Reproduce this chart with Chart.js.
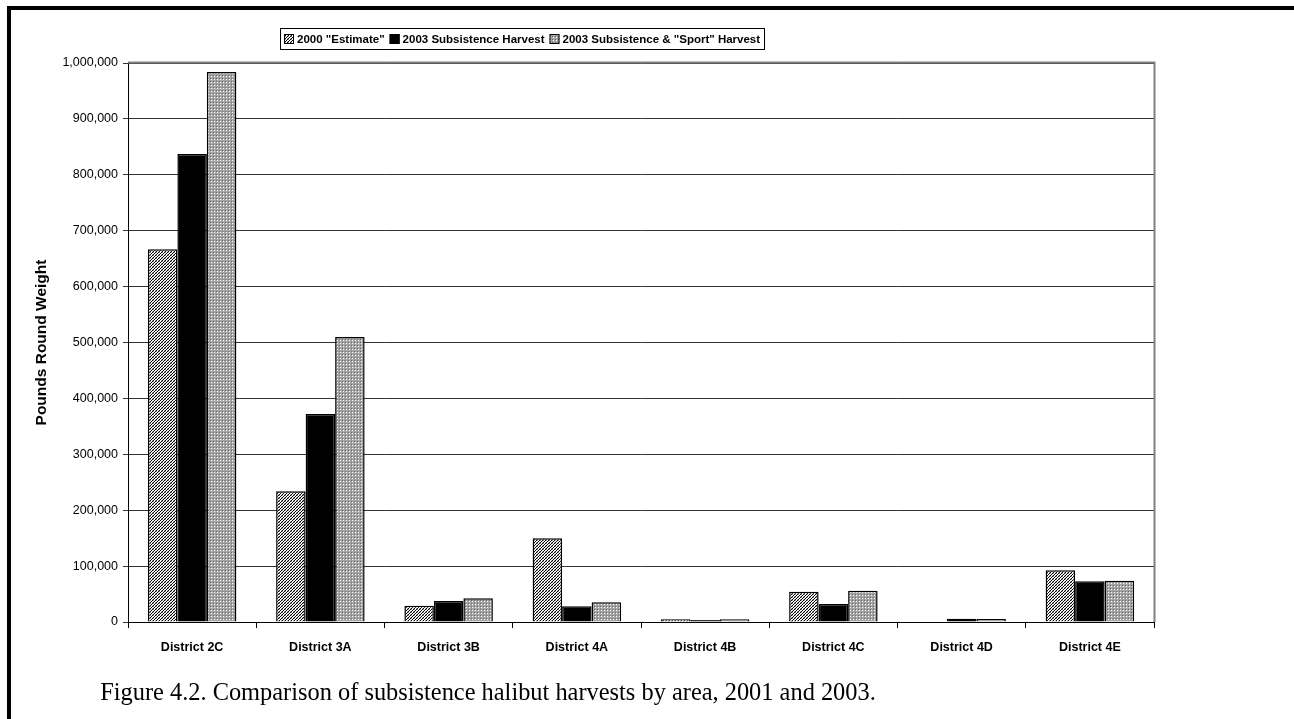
<!DOCTYPE html>
<html lang="en">
<head>
<meta charset="UTF-8">
<title>Subsistence halibut harvests</title>
<script src="https://cdn.jsdelivr.net/npm/chart.js"></script>
<style>
  body { margin: 0; width: 1294px; height: 719px; overflow: hidden; background: #fff; }
  #frame { position: absolute; left: 7px; top: 6px; width: 1400px; height: 800px; border: 4px solid #000; box-sizing: border-box; }
  #chart { position: absolute; left: 0; top: 0; }
  #caption { position: absolute; left: 0; width: 976px; top: 678px; text-align: center;
             font: 24.4px "Liberation Serif", "Times New Roman", serif; color: #000; white-space: nowrap; }
</style>
</head>
<body>
<div id="frame"></div>
<canvas id="chart" width="1294" height="719"></canvas>
<div id="caption">Figure 4.2. Comparison of subsistence halibut harvests by area, 2001 and 2003.</div>

<script>
// values (pounds round weight)
const districts = ["District 2C", "District 3A", "District 3B", "District 4A", "District 4B", "District 4C", "District 4D", "District 4E"];
const estimate2000 = [667000, 234000, 29000, 150000, 4800, 54200, null, 92500];
const subsistence2003 = [837000, 372000, 37600, 28000, 3600, 32200, 5900, 72800];
const subsistenceSport2003 = [984000, 510000, 42400, 35200, 4800, 56000, 5400, 73900];
const seriesNames = ['2000 "Estimate"', '2003 Subsistence Harvest', '2003 Subsistence & "Sport" Harvest'];

function makePattern(size, bg, cells) {
    const c = document.createElement("canvas");
    c.width = size; c.height = size;
    const g = c.getContext("2d");
    g.fillStyle = bg;
    g.fillRect(0, 0, size, size);
    cells.forEach(p => { g.fillStyle = p[2]; g.fillRect(p[0], p[1], 1, 1); });
    return g.createPattern(c, "repeat");
}

const ctx = document.getElementById("chart").getContext("2d");
// fine diagonal hatch for 2000, dotted grey for 2003 sub+sport
const hatch = makePattern(3, "#fff", [[2,0,"#000"],[1,1,"#000"],[0,2,"#000"],[0,0,"#999"],[2,2,"#bbb"]]);
const dots = makePattern(3, "#a4a4a4", [[1,1,"#fff"],[0,0,"#6a6a6a"]]);

const frameLines = {
    id: "frameLines",
    afterDraw(chart) {
        const a = chart.chartArea, c = chart.ctx;
        c.save();
        c.strokeStyle = "#808080";
        c.lineWidth = 2;
        c.beginPath();
        c.moveTo(a.left, a.top - 0.5);
        c.lineTo(a.right + 0.5, a.top - 0.5);
        c.lineTo(a.right + 0.5, a.bottom);
        c.stroke();
        c.restore();
    }
};

// boxed legend above the plot, like the original
const boxLegend = {
    id: "boxLegend",
    afterDraw(chart) {
        const c = chart.ctx;
        c.save();
        c.font = "bold 11.5px 'Liberation Sans', Arial, sans-serif";
        c.textBaseline = "middle";
        const sq = 10, gapIn = 3, gapOut = 5, pad = 4;
        const sets = chart.data.datasets;
        let total = 0;
        sets.forEach((d, i) => {
            total += sq + gapIn + c.measureText(d.label).width;
            if (i < sets.length - 1) total += gapOut;
        });
        const boxW = Math.round(total + pad * 2), boxH = 21;
        const boxX = Math.round(522 - boxW / 2), boxY = 28;
        c.fillStyle = "#fff";
        c.fillRect(boxX, boxY, boxW, boxH);
        c.strokeStyle = "#000";
        c.lineWidth = 1;
        c.strokeRect(boxX + 0.5, boxY + 0.5, boxW, boxH);
        let x = boxX + pad;
        const cy = boxY + boxH / 2 + 0.5;
        sets.forEach(d => {
            c.fillStyle = d.backgroundColor;
            c.fillRect(x, cy - 5, sq, sq);
            c.strokeStyle = "#000";
            c.strokeRect(x + 0.5, cy - 4.5, sq - 1, sq - 1);
            x += sq + gapIn;
            c.fillStyle = "#000";
            c.fillText(d.label, x, cy + 1);
            x += c.measureText(d.label).width + gapOut;
        });
        c.restore();
    }
};

new Chart(ctx, {
    type: "bar",
    data: {
        labels: districts,
        datasets: [
            { label: seriesNames[0], data: estimate2000, backgroundColor: hatch, borderColor: "#000", borderWidth: 1.5 },
            { label: seriesNames[1], data: subsistence2003, backgroundColor: "#000", borderColor: "#000", borderWidth: 1.5 },
            { label: seriesNames[2], data: subsistenceSport2003, backgroundColor: dots, borderColor: "#000", borderWidth: 1.5 }
        ]
    },
    options: {
        responsive: false,
        animation: false,
        layout: { padding: { left: 30, right: 140, top: 63, bottom: 57 } },
        datasets: { bar: { barPercentage: 1, categoryPercentage: 0.69 } },
        plugins: {
            legend: { display: false },
            tooltip: { enabled: false }
        },
        scales: {
            x: {
                grid: { drawOnChartArea: false, drawTicks: true, tickLength: 6, color: "#000", offset: true },
                border: { color: "#000", width: 1 },
                ticks: { color: "#000", padding: 12, maxRotation: 0,
                         font: { family: "'Liberation Sans', Arial, sans-serif", size: 12.5, weight: "bold" } },
                afterFit: s => { s.height = 40; }
            },
            y: {
                min: 0,
                max: 1000000,
                ticks: { stepSize: 100000, color: "#000", padding: 5,
                         font: { family: "'Liberation Sans', Arial, sans-serif", size: 12.5 },
                         callback: v => v.toLocaleString("en-US") },
                grid: { color: "#333", lineWidth: 1, tickLength: 5 },
                border: { color: "#000", width: 1 },
                title: { display: true, text: "Pounds Round Weight", color: "#000", padding: { top: 2, bottom: 4 },
                         font: { family: "'Liberation Sans', Arial, sans-serif", size: 15.5, weight: "bold" } },
                afterFit: s => { s.width = 98; }
            }
        }
    },
    plugins: [frameLines, boxLegend]
});
</script>
</body>
</html>
